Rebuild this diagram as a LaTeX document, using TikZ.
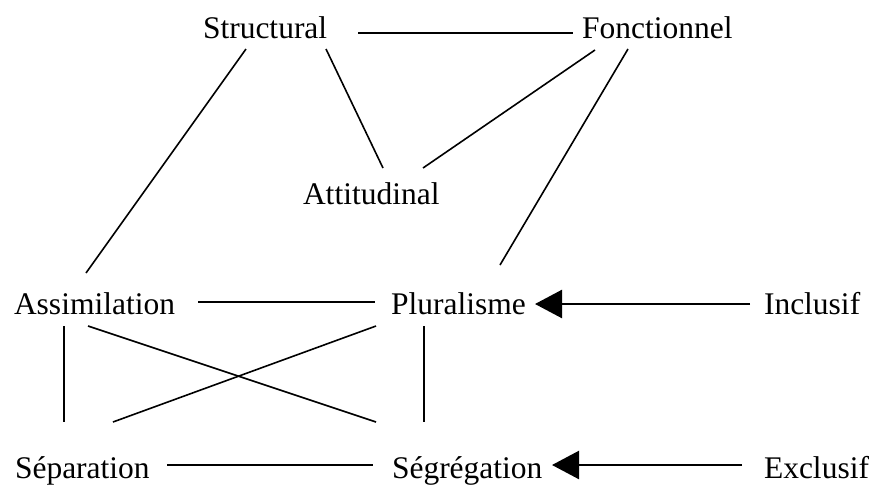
\documentclass[tikz,border=0pt]{standalone}
\usepackage{fontspec}
\setmainfont{Liberation Serif}
\usetikzlibrary{arrows.meta}
\begin{document}
\begin{tikzpicture}[x=1pt,y=-1pt,
  lbl/.style={anchor=base west,inner sep=0pt,outer sep=0pt,font=\fontsize{31.5pt}{38pt}\selectfont},
  link/.style={line width=1.6pt},
  push/.style={line width=2.4pt,-{Triangle[length=27pt,width=28pt]}}]
\useasboundingbox (0,0) rectangle (872,485);
\node[lbl] (struct) at (203,38) {Structural};
\node[lbl] (fonc) at (582,38) {Fonctionnel};
\node[lbl] (att) at (303,204) {Attitudinal};
\node[lbl] (assim) at (14,314) {Assimilation};
\node[lbl] (plur) at (391,314) {Pluralisme};
\node[lbl] (incl) at (764,314) {Inclusif};
\node[lbl] (sep) at (15,478) {Séparation};
\node[lbl] (seg) at (392,478) {Ségrégation};
\node[lbl] (excl) at (764,478) {Exclusif};
\draw[link] ([shift={(155,-5)}]struct.base west) -- ([shift={(-9,-5)}]fonc.base west);
\draw[link] ([shift={(43,11)}]struct.base west) -- ([shift={(72,-41)}]assim.base west);
\draw[link] ([shift={(123,11)}]struct.base west) -- ([shift={(80,-36)}]att.base west);
\draw[link] ([shift={(13,12)}]fonc.base west) -- ([shift={(120,-36)}]att.base west);
\draw[link] ([shift={(46,11)}]fonc.base west) -- ([shift={(109,-49)}]plur.base west);
\draw[link] ([shift={(184,-12)}]assim.base west) -- ([shift={(-16,-12)}]plur.base west);
\draw[push] ([shift={(-14,-10)}]incl.base west) -- ([shift={(144,-10)}]plur.base west);
\draw[link] ([shift={(50,12)}]assim.base west) -- ([shift={(49,-56)}]sep.base west);
\draw[link] ([shift={(74,12)}]assim.base west) -- ([shift={(-16,-56)}]seg.base west);
\draw[link] ([shift={(-15,12)}]plur.base west) -- ([shift={(98,-56)}]sep.base west);
\draw[link] ([shift={(33,12)}]plur.base west) -- ([shift={(32,-56)}]seg.base west);
\draw[link] ([shift={(152,-13)}]sep.base west) -- ([shift={(-19,-13)}]seg.base west);
\draw[push] ([shift={(-22,-13)}]excl.base west) -- ([shift={(160,-13)}]seg.base west);
\end{tikzpicture}
\end{document}
